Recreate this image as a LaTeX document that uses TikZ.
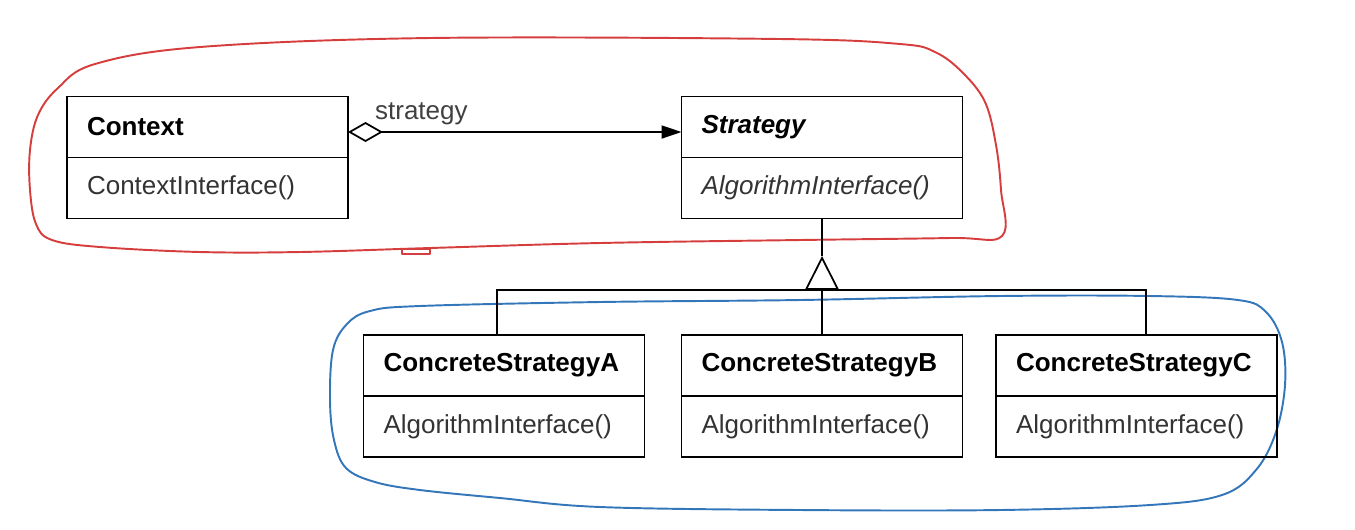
\documentclass[tikz,border=0pt]{standalone}
\usepackage{fontspec}
\setmainfont{Liberation Sans}
\usepackage{xcolor}
\usepackage{tikz}
\usetikzlibrary{arrows.meta, positioning}

\definecolor{inkred}{RGB}{214,62,62}
\definecolor{inkblue}{RGB}{52,118,186}

\begin{document}
\begin{tikzpicture}[
  x=0.02cm, y=-0.02cm,
  classname/.style={rectangle, draw, line width=1pt, outer sep=0pt, minimum width=5.62cm, minimum height=1.22cm,
    inner xsep=0.4cm, text width=4.82cm, align=left, font=\fontsize{14.8pt}{17pt}\selectfont\bfseries},
  classops/.style={classname, font=\fontsize{14.8pt}{17pt}\selectfont, text=black!80},
  assoc/.style={line width=1pt, {Diamond[open,length=0.7cm,width=0.4cm]}-{Triangle[length=0.4cm,width=0.26cm]}},
  gen/.style={line width=1pt},
  label/.style={font=\fontsize{14.8pt}{17pt}\selectfont, text=black!75},
  hand/.style={line width=1.1pt, line join=round}
]
\useasboundingbox (0,0) rectangle (1355,529);

%% Hand drawn marks
\draw[hand, inkred] plot[smooth cycle, tension=0.6] coordinates {
  (30,150) (38,115) (58,88) (95,64) (200,47) (430,38) (780,39) (900,44) (935,52)
  (962,72) (985,102) (996,145) (1001,190) (1002,236) (950,238) (800,240) (600,243)
  (430,248) (300,252) (200,252) (100,247) (52,240) (36,224) (30,190)};
\draw[hand, inkred] (402,249) rectangle (430,254);
\draw[hand, inkblue] plot[smooth cycle, tension=0.6] coordinates {
  (333,350) (347,324) (370,311) (420,306) (600,302) (800,300) (1000,296) (1150,296)
  (1238,300) (1266,312) (1282,342) (1285,385) (1276,432) (1256,470) (1222,495)
  (1150,505) (1000,510) (800,510) (600,507) (500,498) (420,490) (375,482) (346,468)
  (334,440) (330,400)};

%% Classes
\node[classname] (ctx) at (207.5,127) {Context};
\node[classops, below=0pt of ctx] (ctxops) {ContextInterface()};
\node[classname] (strat) at (822,127) {\itshape Strategy};
\node[classops, below=0pt of strat] (stratops) {\itshape AlgorithmInterface()};
\node[classname] (csa) at (504,365.5) {ConcreteStrategyA};
\node[classops, below=0pt of csa] (csaops) {AlgorithmInterface()};
\node[classname] (csb) at (822,365.5) {ConcreteStrategyB};
\node[classops, below=0pt of csb] (csbops) {AlgorithmInterface()};
\node[classname] (csc) at (1136.5,365.5) {ConcreteStrategyC};
\node[classops, below=0pt of csc] (cscops) {AlgorithmInterface()};

%% Association
\draw[assoc] ([yshift=-0.1cm]ctx.east) -- node[label, pos=0.22, above]{strategy} ([yshift=-0.1cm]strat.west);

%% Inheritance
\coordinate (bar) at (822,290);
\coordinate (apex) at (822,256);
\draw[gen] (stratops.south) -- (apex);
\draw[gen, -{Triangle[open,length=0.68cm,width=0.68cm]}] (bar) -- (apex);
\draw[gen] ([xshift=-0.14cm]csa.north) |- (bar) -| ([xshift=0.19cm]csc.north);
\draw[gen] (csb.north) -- (bar);

\end{tikzpicture}
\end{document}
